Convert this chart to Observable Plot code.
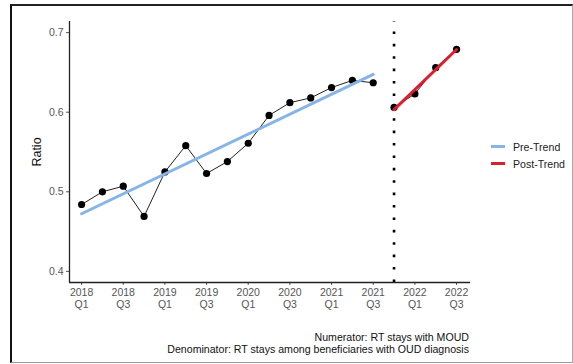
<!DOCTYPE html>
<html>
<head>
<meta charset="utf-8">
<script src="https://cdn.jsdelivr.net/npm/d3@7"></script>
<script src="https://cdn.jsdelivr.net/npm/@observablehq/plot@0.6"></script>
<style>
  html, body { margin: 0; padding: 0; background: #fff; }
  body { width: 573px; height: 364px; position: relative; overflow: hidden;
         font-family: "Liberation Sans", Arial, sans-serif; }
  #frame { position: absolute; left: 10px; top: 4px; width: 560px; height: 356px;
           border-left: 2px solid #111; border-top: 2px solid #222;
           border-right: 1px solid #aaa; border-bottom: 1px solid #999; }
  #chart { position: absolute; left: 0; top: 0; }
  #legend { position: absolute; left: 491px; top: 138px; font-size: 10.6px; color: #222; }
  #legend .row { display: flex; align-items: center; height: 17px; }
  #legend .key { width: 14px; height: 3px; margin-right: 8px; }
  #caption { position: absolute; right: 104px; top: 331px; text-align: right;
             font-size: 10.6px; line-height: 12px; color: #111; }
</style>
</head>
<body>
<div id="frame"></div>
<div id="chart"></div>
<div id="legend"></div>
<div id="caption"></div>
<script>
// Quarterly ratio of RT stays with MOUD among beneficiaries with OUD diagnosis
const quarters = ["2018 Q1","2018 Q2","2018 Q3","2018 Q4","2019 Q1","2019 Q2","2019 Q3","2019 Q4",
                  "2020 Q1","2020 Q2","2020 Q3","2020 Q4","2021 Q1","2021 Q2","2021 Q3","2021 Q4",
                  "2022 Q1","2022 Q2","2022 Q3"];
const ratio = [0.484, 0.500, 0.507, 0.469, 0.525, 0.558, 0.523, 0.538,
               0.561, 0.596, 0.612, 0.618, 0.631, 0.640, 0.637, 0.606,
               0.623, 0.656, 0.679];
const period = ["pre","pre","pre","pre","pre","pre","pre","pre","pre","pre","pre","pre","pre","pre","pre",
                "post","post","post","post"];
const breakQuarter = "2021 Q4";
const yTicks = [0.4, 0.5, 0.6, 0.7];
const legendLabels = ["Pre-Trend", "Post-Trend"];
const legendColors = ["#85b5e8", "#dc1e2d"];
const captionLines = ["Numerator: RT stays with MOUD",
                      "Denominator: RT stays among beneficiaries with OUD diagnosis"];

const data = quarters.map((q, i) => ({i, q, ratio: ratio[i], period: period[i]}));
const pre = data.filter(d => d.period === "pre");
const post = data.filter(d => d.period === "post");
const breakIndex = quarters.indexOf(breakQuarter);
const xTicks = d3.range(0, quarters.length, 2);
const xDomain = [-0.58, 18.67];
const yDomain = [0.386, 0.714];

const chart = Plot.plot({
  width: 573,
  height: 322,
  marginLeft: 69,
  marginRight: 103,
  marginTop: 21,
  marginBottom: 40,
  style: {fontFamily: "Liberation Sans, Arial, sans-serif", fontSize: "10.5px", background: "transparent"},
  x: {type: "linear", domain: xDomain},
  y: {domain: yDomain},
  marks: [
    Plot.axisX({ticks: xTicks, tickSize: 3, tickPadding: 2, stroke: "#555", fill: "#555",
                lineHeight: 1.15, label: null,
                tickFormat: i => quarters[i].replace(" ", "\n")}),
    Plot.axisY({ticks: yTicks, tickSize: 3, tickPadding: 3, stroke: "#555", fill: "#555",
                tickFormat: d3.format(".1f"), label: "Ratio", labelAnchor: "center",
                labelArrow: false, labelOffset: 37}),
    Plot.ruleX([xDomain[0]], {y1: yDomain[0], y2: yDomain[1], stroke: "#222", strokeWidth: 1.3}),
    Plot.ruleY([yDomain[0]], {x1: xDomain[0], x2: xDomain[1], stroke: "#222", strokeWidth: 1.3}),
    Plot.ruleX([breakIndex], {y1: yDomain[0], y2: yDomain[1], stroke: "#000", strokeWidth: 2.6,
                strokeDasharray: "2.6 9.8"}),
    Plot.line(pre, {x: "i", y: "ratio", stroke: "#222", strokeWidth: 1}),
    Plot.line(post, {x: "i", y: "ratio", stroke: "#222", strokeWidth: 1}),
    Plot.dot(data, {x: "i", y: "ratio", r: 3.6, fill: "#000"}),
    Plot.linearRegressionY(pre, {x: "i", y: "ratio", ci: 0, stroke: legendColors[0], strokeWidth: 3}),
    Plot.linearRegressionY(post, {x: "i", y: "ratio", ci: 0, stroke: legendColors[1], strokeWidth: 3})
  ]
});
chart.querySelectorAll("[aria-label='y-axis label'] text").forEach(t => {
  t.setAttribute("fill", "#111"); t.style.fontSize = "12.5px";
});
document.getElementById("chart").appendChild(chart);

document.getElementById("legend").innerHTML = legendLabels.map((l, k) =>
  `<div class="row"><span class="key" style="background:${legendColors[k]}"></span>${l}</div>`).join("");
document.getElementById("caption").innerHTML = captionLines.join("<br>");
</script>
</body>
</html>
